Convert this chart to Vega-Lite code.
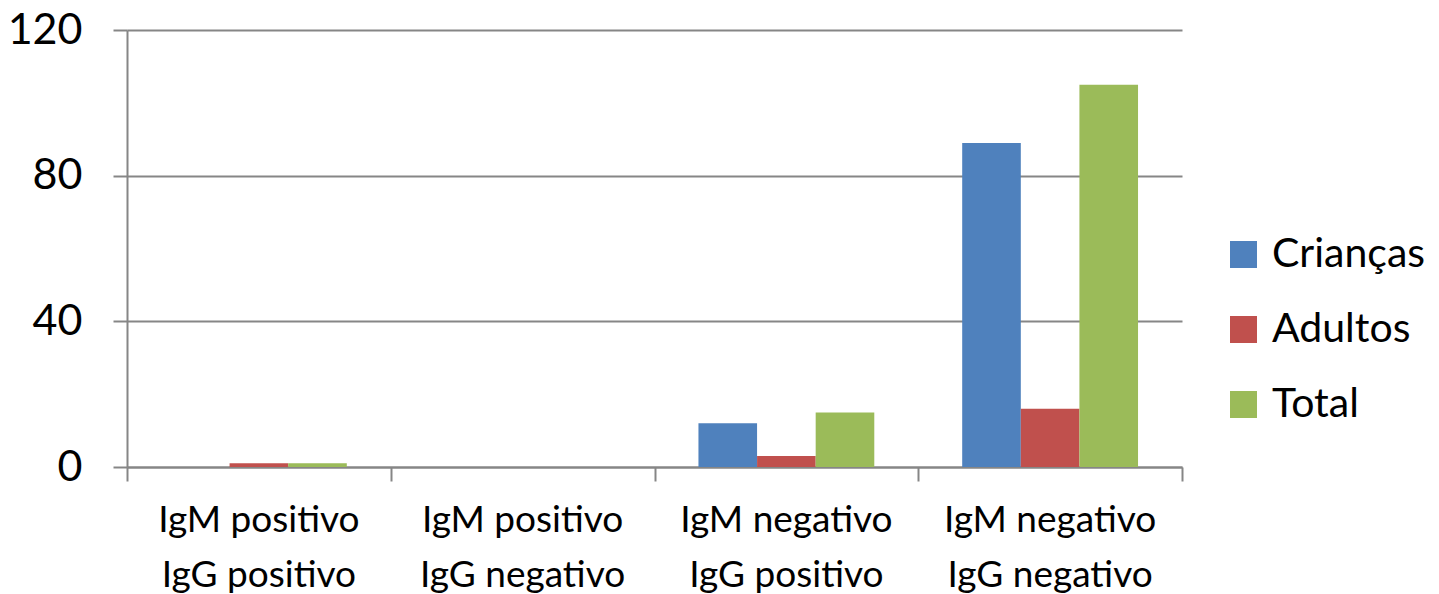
{
  "$schema": "https://vega.github.io/schema/vega-lite/v6.json",
  "autosize": "none",
  "width": 1055,
  "height": 437,
  "padding": {"left": 127, "top": 30, "right": 257, "bottom": 127},
  "background": "white",
  "config": {"view": {"stroke": null}, "font": "Lato"},
  "data": {
    "values": [
      {"cat": "IgM positivo|IgG positivo", "grupo": "Crianças", "valor": 0},
      {"cat": "IgM positivo|IgG positivo", "grupo": "Adultos", "valor": 1},
      {"cat": "IgM positivo|IgG positivo", "grupo": "Total", "valor": 1},
      {"cat": "IgM positivo|IgG negativo", "grupo": "Crianças", "valor": 0},
      {"cat": "IgM positivo|IgG negativo", "grupo": "Adultos", "valor": 0},
      {"cat": "IgM positivo|IgG negativo", "grupo": "Total", "valor": 0},
      {"cat": "IgM negativo|IgG positivo", "grupo": "Crianças", "valor": 12},
      {"cat": "IgM negativo|IgG positivo", "grupo": "Adultos", "valor": 3},
      {"cat": "IgM negativo|IgG positivo", "grupo": "Total", "valor": 15},
      {"cat": "IgM negativo|IgG negativo", "grupo": "Crianças", "valor": 89},
      {"cat": "IgM negativo|IgG negativo", "grupo": "Adultos", "valor": 16},
      {"cat": "IgM negativo|IgG negativo", "grupo": "Total", "valor": 105}
    ]
  },
  "resolve": {"axis": {"x": "independent"}, "scale": {"x": "independent"}},
  "layer": [
    {
      "mark": {"type": "bar", "opacity": 0},
      "encoding": {
        "x": {
          "field": "cat",
          "type": "nominal",
          "sort": null,
          "scale": {"paddingInner": 0, "paddingOuter": 0},
          "axis": {
            "orient": "bottom",
            "title": null,
            "labels": false,
            "tickBand": "extent",
            "tickSize": 14,
            "tickColor": "#868686",
            "tickWidth": 2,
            "domainColor": "#868686",
            "domainWidth": 2,
            "grid": false
          }
        },
        "y": {
          "field": "valor",
          "type": "quantitative",
          "scale": {"domain": [0, 120], "nice": false},
          "axis": {
            "title": null,
            "values": [0, 40, 80, 120],
            "labelFont": "Lato",
            "labelFontSize": 43,
            "labelColor": "#000000",
            "labelPadding": 31,
            "tickSize": 14,
            "tickColor": "#868686",
            "tickWidth": 2,
            "domainColor": "#868686",
            "domainWidth": 2,
            "grid": true,
            "gridColor": "#868686",
            "gridWidth": 2
          }
        }
      }
    },
    {
      "mark": {"type": "bar"},
      "encoding": {
        "x": {
          "field": "cat",
          "type": "nominal",
          "sort": null,
          "scale": {"paddingInner": 0.3333, "paddingOuter": 0.1667},
          "axis": {
            "orient": "bottom",
            "title": null,
            "labelAngle": 0,
            "labelExpr": "split(datum.value, '|')",
            "labelFont": "Lato",
            "labelFontSize": 37,
            "labelColor": "#000000",
            "labelLineHeight": 55,
            "labelPadding": 35,
            "labelDx": -8,
            "labelLimit": 400,
            "ticks": false,
            "domain": false,
            "grid": false
          }
        },
        "xOffset": {"field": "grupo", "type": "nominal", "sort": ["Crianças", "Adultos", "Total"]},
        "y": {"field": "valor", "type": "quantitative"},
        "color": {
          "field": "grupo",
          "type": "nominal",
          "sort": ["Crianças", "Adultos", "Total"],
          "scale": {"domain": ["Crianças", "Adultos", "Total"], "range": ["#4F81BD", "#C0504D", "#9BBB59"]},
          "legend": {
            "title": null,
            "orient": "none",
            "legendX": 1096,
            "legendY": 204,
            "symbolType": "square",
            "symbolSize": 729,
            "symbolStrokeWidth": 0,
            "symbolOpacity": 1,
            "labelFont": "Lato",
            "labelFontSize": 41,
            "labelColor": "#000000",
            "labelOffset": 8,
            "rowPadding": 33,
            "labelLimit": 400
          }
        }
      }
    }
  ]
}
